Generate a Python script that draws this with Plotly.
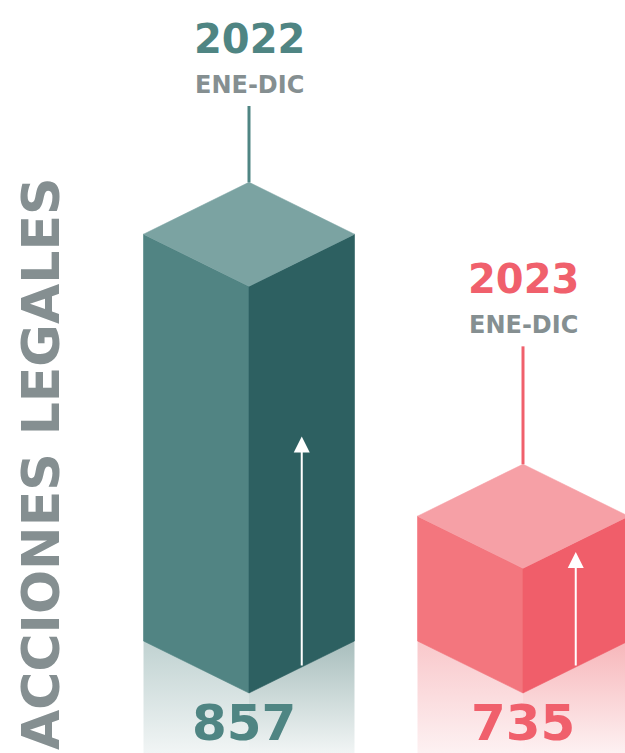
import plotly.graph_objects as go

# ---- data ----
years = ["2022", "2023"]
periods = ["ENE-DIC", "ENE-DIC"]
values = [857, 735]
axis_title = "ACCIONES LEGALES"

# ---- layout / style ----
W, H = 625, 753
centers = [249, 523]          # x of the front edge of each block
half_w = 105.5                # horizontal half width of a block (px)
px_per_unit = 2.311           # vertical scale
floor_val = 681               # value at the blocks' front-bottom corner
floor_px = 693                # pixel row of that corner
depth = 52 / px_per_unit      # isometric rise of the side edges, in value units
y_lo = floor_val - (H - floor_px) / px_per_unit
y_hi = floor_val + floor_px / px_per_unit

stem_tops = [935, 831]        # upper end of the leader lines
arrow_tips = [792, 742]       # tip of the white arrow drawn on the right face
value_dx = [-5, 0]            # small horizontal nudge of the value labels

palettes = [
    dict(top="#7ba3a2", left="#518483", right="#2d6061", text="#4f8583",
         fade_left="#c0d2d1", fade_right="#a8bebd", fade_end="#f1f5f5"),
    dict(top="#f6a0a6", left="#f3767e", right="#f05e6a", text="#f0606c",
         fade_left="#f9c8cb", fade_right="#f7b6ba", fade_end="#fdf1f2"),
]
grey = "#858f91"
font = "DejaVu Sans"

fig = go.Figure()


def poly(xs, ys, color, **kw):
    fig.add_trace(go.Scatter(
        x=xs + [xs[0]], y=ys + [ys[0]], mode="lines", fill="toself",
        fillcolor=color, line=dict(color=color, width=0.6),
        hoverinfo="skip", showlegend=False, **kw))


for c, v, pal, stem, tip, yr, per, dx in zip(centers, values, palettes, stem_tops,
                                              arrow_tips, years, periods, value_dx):
    l, r = c - half_w, c + half_w
    top_fade = floor_val + depth

    # soft fade below the block
    for xs, col in (([l, c, c, l], pal["fade_left"]), ([c, r, r, c], pal["fade_right"])):
        fig.add_trace(go.Scatter(
            x=xs + [xs[0]], y=[y_lo, y_lo, top_fade, top_fade, y_lo],
            mode="lines", fill="toself", line=dict(width=0),
            fillgradient=dict(type="vertical", start=y_lo, stop=top_fade,
                              colorscale=[[0, pal["fade_end"]], [1, col]]),
            hoverinfo="skip", showlegend=False))

    # isometric block
    poly([l, c, c, l], [floor_val + depth, floor_val, v, v + depth], pal["left"])
    poly([c, r, r, c], [floor_val, floor_val + depth, v + depth, v], pal["right"])
    poly([c, l, c, r], [v, v + depth, v + 2 * depth, v + depth], pal["top"])

    # leader line
    fig.add_trace(go.Scatter(
        x=[c, c], y=[v + 2 * depth, stem], mode="lines",
        line=dict(color=pal["text"], width=3), hoverinfo="skip", showlegend=False))

    # white arrow on the right face
    ax = c + half_w / 2
    fig.add_annotation(x=ax, y=tip, ax=ax, ay=floor_val + depth / 2,
                       xref="x", yref="y", axref="x", ayref="y", text="",
                       showarrow=True, arrowhead=2, arrowsize=1.6,
                       arrowwidth=2, arrowcolor="white", standoff=0)

    # year and period labels
    fig.add_annotation(x=c, y=stem, yshift=67, text=f"<b>{yr}</b>",
                       showarrow=False, font=dict(family=font, size=40, color=pal["text"]))
    fig.add_annotation(x=c, y=stem, yshift=21, text=f"<b>{per}</b>",
                       showarrow=False, font=dict(family=font, size=24, color=grey))

    # value under the block
    fig.add_annotation(x=c + dx, y=floor_val, yshift=-30, text=f"<b>{v}</b>",
                       showarrow=False, font=dict(family=font, size=50, color=pal["text"]))

fig.add_annotation(x=41 / W, y=1 - 464 / H, xref="paper", yref="paper",
                   xanchor="center", yanchor="middle",
                   text=f"<b>{axis_title}</b>", textangle=-90, showarrow=False,
                   font=dict(family=font, size=52, color=grey))

fig.update_layout(
    width=W, height=H, margin=dict(l=0, r=0, t=0, b=0),
    paper_bgcolor="white", plot_bgcolor="white",
    xaxis=dict(range=[0, W], visible=False, fixedrange=True),
    yaxis=dict(range=[y_lo, y_hi], visible=False, fixedrange=True),
)

fig.write_html("out.html")
